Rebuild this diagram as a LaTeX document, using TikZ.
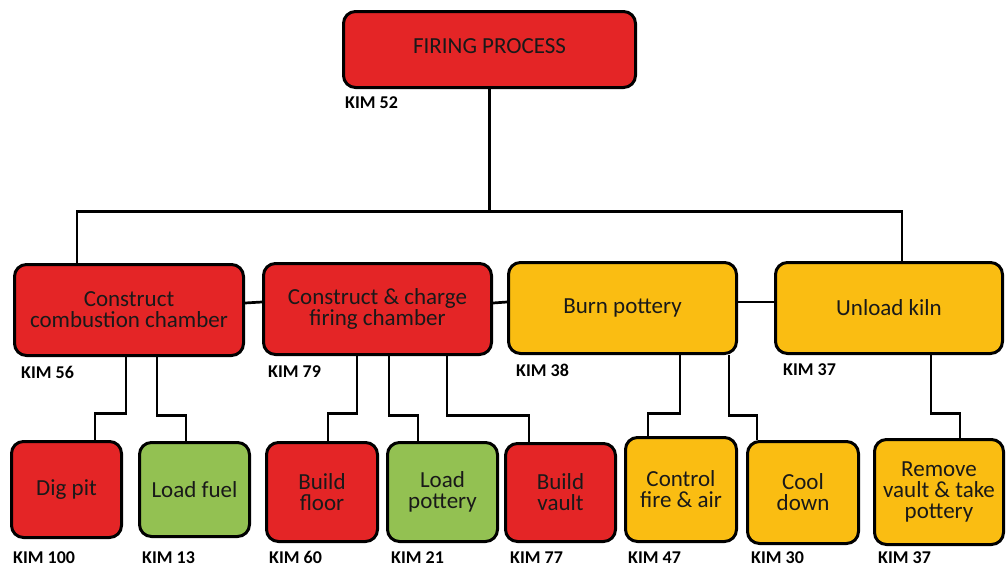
\documentclass[tikz,border=0pt]{standalone}
\usepackage{fontspec}
\setmainfont{Carlito}
\definecolor{kred}{HTML}{E42526}
\definecolor{korange}{HTML}{FABD12}
\definecolor{kgreen}{HTML}{93C152}
\tikzset{
  box/.style={draw=black, line width=3pt, rounded corners=12pt, align=center,
    inner sep=0pt, font=\fontsize{23}{21}\selectfont, text=black!90},
  redbox/.style={box, fill=kred},
  orbox/.style={box, fill=korange},
  grbox/.style={box, fill=kgreen},
  kim/.style={anchor=base west, inner sep=0pt, font=\bfseries\fontsize{18}{20}\selectfont},
  conn/.style={draw=black, line width=2.7pt}
}
\begin{document}
\begin{tikzpicture}[x=1pt, y=-1pt]
\useasboundingbox (0,0) rectangle (1006,566);
% top
\node[redbox, minimum width=292pt, minimum height=76pt] (top) at (489.5,49.5) {\raisebox{6pt}{FIRING PROCESS}};
% row 2
\node[redbox, minimum width=229pt, minimum height=91pt] (ccc) at (129,310) {Construct\\combustion chamber};
\node[redbox, minimum width=228pt, minimum height=91pt] (ccfc) at (377.5,309) {Construct \& charge\\firing chamber};
\node[orbox, minimum width=228pt, minimum height=91pt] (burn) at (622.5,308) {Burn pottery};
\node[orbox, minimum width=227pt, minimum height=91pt] (unload) at (889,308) {Unload kiln};
% row 3
\node[redbox, minimum width=110pt, minimum height=96pt] (dig) at (66.5,489.5) {Dig pit};
\node[grbox, minimum width=110pt, minimum height=94pt] (fuel) at (194.5,489.5) {Load fuel};
\node[redbox, minimum width=111pt, minimum height=99pt] (floor) at (322,492) {Build\\floor};
\node[grbox, minimum width=110pt, minimum height=99pt] (lpot) at (442.5,492) {Load\\pottery};
\node[redbox, minimum width=110pt, minimum height=98pt] (vault) at (560.5,492.5) {Build\\vault};
\node[orbox, minimum width=111pt, minimum height=104pt] (control) at (681,489.5) {Control\\fire \& air};
\node[orbox, minimum width=111pt, minimum height=102pt] (cool) at (803,492.5) {Cool\\down};
\node[orbox, minimum width=129pt, minimum height=105pt] (remove) at (939,492) {Remove\\vault \& take\\pottery};
% labels
\node[kim] (k52) at (345,108) {KIM 52};
\node[kim] (k56) at (21,378) {KIM 56};
\node[kim] (k79) at (268,377) {KIM 79};
\node[kim] (k38) at (516,376) {KIM 38};
\node[kim] (k37a) at (783,375) {KIM 37};
\node[kim] (k100) at (13,563) {KIM 100};
\node[kim] (k13) at (142,563) {KIM 13};
\node[kim] (k60) at (269,563) {KIM 60};
\node[kim] (k21) at (391,563) {KIM 21};
\node[kim] (k77) at (510,563) {KIM 77};
\node[kim] (k47) at (628,563) {KIM 47};
\node[kim] (k30) at (751,563) {KIM 30};
\node[kim] (k37b) at (878,563) {KIM 37};
% top connectors
\draw[conn] (top.south) -- ++(0,122.5) coordinate (hub);
\draw[conn] ([xshift=-52pt]ccc.north) |- (hub) -| ([xshift=13pt]unload.north);
% row 2 links
\draw[conn] ([yshift=7pt]ccc.east) -- ([yshift=7pt]ccfc.west);
\draw[conn] ([yshift=6pt]ccfc.east) -- ([yshift=6pt]burn.west);
\draw[conn] ([yshift=6pt]burn.east) -- ([yshift=6pt]unload.west);
% row 2 to row 3
\draw[conn] ([xshift=-3pt]ccc.south) -- ++(0,56.5) -| ([xshift=28.5pt]dig.north);
\draw[conn] ([xshift=28pt]ccc.south) -- ++(0,58.5) -| ([xshift=-8.5pt]fuel.north);
\draw[conn] ([xshift=-20.5pt]ccfc.south) -- ++(0,57.5) -| ([xshift=6pt]floor.north);
\draw[conn] ([xshift=11.5pt]ccfc.south) -- ++(0,59.5) -| ([xshift=-24.5pt]lpot.north);
\draw[conn] ([xshift=69.5pt]ccfc.south) -- ++(0,59.5) -| ([xshift=-31.5pt]vault.north);
\draw[conn] ([xshift=57.5pt]burn.south) -- ++(0,58.5) -| ([xshift=-33pt]control.north);
\draw[conn] ([xshift=106.5pt]burn.south) -- ++(0,60.5) -| ([xshift=-46pt]cool.north);
\draw[conn] ([xshift=42pt]unload.south) -- ++(0,58.5) -| ([xshift=21pt]remove.north);
\end{tikzpicture}
\end{document}
